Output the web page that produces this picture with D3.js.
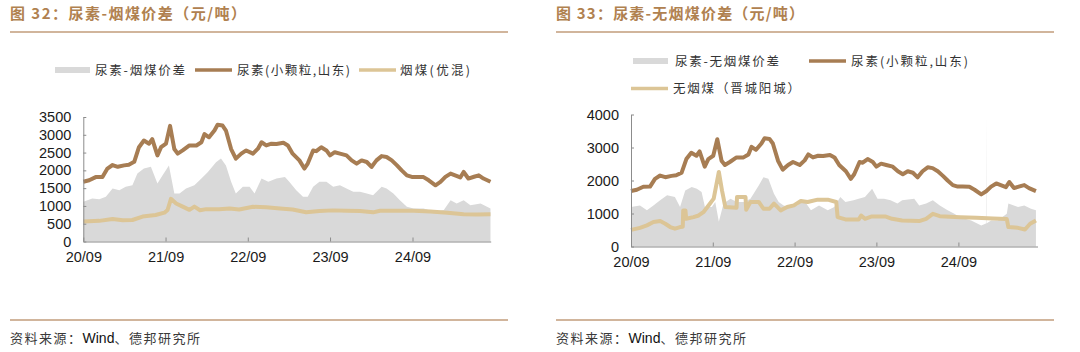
<!DOCTYPE html>
<html>
<head>
<meta charset="utf-8">
<script src="https://cdn.jsdelivr.net/npm/d3@7"></script>
<style>
  body { margin: 0; background: #fff; }
  svg { display: block; }
  .tick text { font-family: "Liberation Sans", Arial, sans-serif; font-size: 14.5px; fill: #1a1a1a; }
  .axis path, .axis line { stroke: #8c8c8c; }
</style>
</head>
<body>
<svg id="chart" width="1080" height="352"></svg>
<script>
// urea (small granule, Shandong), yuan/t — shared by both panels
const ureaDates = ["2020-09-01","2020-09-27","2020-10-26","2020-11-25","2020-12-17","2021-01-09","2021-02-01","2021-03-01","2021-03-22","2021-04-15","2021-05-06","2021-05-28","2021-06-20","2021-07-04","2021-07-27","2021-08-12","2021-09-03","2021-09-21","2021-10-10","2021-10-25","2021-11-16","2021-12-16","2022-01-16","2022-02-07","2022-02-21","2022-03-13","2022-04-06","2022-04-20","2022-05-12","2022-05-27","2022-06-19","2022-07-10","2022-08-03","2022-08-25","2022-09-24","2022-10-16","2022-11-01","2022-11-22","2022-12-15","2023-01-06","2023-02-06","2023-02-26","2023-03-19","2023-04-18","2023-05-10","2023-05-25","2023-06-18","2023-07-02","2023-07-24","2023-08-16","2023-09-01","2023-09-22","2023-10-15","2023-11-13","2023-12-06","2023-12-28","2024-01-19","2024-02-11","2024-03-03","2024-03-25","2024-04-17","2024-05-09","2024-06-01","2024-06-24","2024-07-15","2024-08-07","2024-08-29","2024-09-20","2024-10-20","2024-11-12","2024-12-12","2025-01-03","2025-01-25","2025-02-17","2025-03-09","2025-04-01","2025-04-16","2025-05-07","2025-06-01","2025-06-22","2025-07-13","2025-08-13"];
const urea = [1680,1720,1810,1815,2050,2150,2100,2140,2160,2240,2650,2840,2750,2880,2420,2650,2750,3250,2600,2470,2560,2700,2700,2790,3020,2930,3120,3280,3260,3120,2600,2330,2470,2560,2470,2610,2790,2700,2750,2740,2775,2700,2470,2280,2050,2190,2560,2540,2650,2560,2420,2510,2470,2420,2280,2190,2280,2235,2095,2280,2400,2375,2280,2140,2000,1860,1815,1815,1810,1720,1580,1675,1815,1910,1860,1800,1955,1770,1820,1860,1770,1680];

// bituminous coal (mixed), yuan/t
const bitDates = ["2020-09-01","2020-11-11","2021-01-09","2021-02-23","2021-04-07","2021-05-22","2021-07-19","2021-08-27","2021-09-10","2021-09-25","2021-10-18","2021-11-16","2021-12-16","2022-01-07","2022-02-01","2022-03-01","2022-04-28","2022-06-12","2022-07-25","2022-09-24","2022-11-22","2023-01-22","2023-03-19","2023-05-18","2023-07-16","2023-09-15","2023-11-13","2024-01-12","2024-03-10","2024-04-10","2024-06-24","2024-09-06","2024-11-19","2025-02-03","2025-04-16","2025-06-15","2025-08-13"];
const bitCoal = [560,580,630,600,605,700,745,810,885,1200,1070,980,890,980,880,910,910,930,900,975,960,930,900,820,855,875,865,855,820,865,865,865,840,810,765,760,765];

// urea - bituminous spread
const bitSpreadDates = ["2020-09-01","2020-10-11","2020-11-11","2020-12-10","2021-01-09","2021-02-08","2021-03-08","2021-04-07","2021-04-29","2021-05-28","2021-06-28","2021-07-27","2021-08-19","2021-09-16","2021-10-10","2021-11-02","2021-12-01","2022-01-07","2022-02-07","2022-03-07","2022-04-13","2022-05-05","2022-05-27","2022-06-19","2022-07-10","2022-08-10","2022-09-09","2022-10-01","2022-11-01","2022-12-01","2023-01-06","2023-02-13","2023-03-04","2023-04-04","2023-05-04","2023-05-25","2023-06-18","2023-07-16","2023-08-16","2023-09-15","2023-10-15","2023-11-13","2023-12-13","2024-01-12","2024-02-11","2024-03-10","2024-04-17","2024-05-09","2024-06-08","2024-07-07","2024-08-07","2024-09-06","2024-10-20","2024-12-04","2025-01-18","2025-02-17","2025-03-16","2025-04-16","2025-05-16","2025-06-30","2025-08-13"];
const bitSpread = [1120,1210,1190,1260,1490,1440,1540,1580,1910,2050,2100,1630,1860,2140,1350,1350,1490,1580,1770,1950,2230,2330,2140,1680,1350,1540,1540,1350,1770,1680,1770,1815,1680,1440,1260,1260,1540,1680,1680,1540,1580,1490,1400,1400,1350,1300,1540,1490,1350,1160,980,930,930,840,885,1160,1070,1160,1020,1070,930];

// anthracite (Jincheng Yangcheng), yuan/t
const anthDates = ["2020-09-01","2020-10-11","2020-11-11","2020-12-10","2021-01-09","2021-02-01","2021-02-23","2021-03-16","2021-04-08","2021-04-20","2021-04-22","2021-05-02","2021-05-05","2021-06-07","2021-06-30","2021-07-21","2021-08-13","2021-09-05","2021-09-28","2021-10-12","2021-10-27","2021-12-16","2021-12-18","2022-01-25","2022-01-28","2022-02-16","2022-03-25","2022-04-15","2022-05-12","2022-06-01","2022-07-01","2022-07-30","2022-08-29","2022-09-29","2022-10-29","2022-12-13","2023-01-27","2023-03-06","2023-03-12","2023-04-16","2023-06-14","2023-06-25","2023-07-12","2023-08-12","2023-10-10","2023-11-10","2023-12-25","2024-03-10","2024-04-10","2024-05-10","2024-06-10","2024-09-08","2024-11-20","2025-02-03","2025-04-05","2025-04-12","2025-05-25","2025-06-25","2025-07-18","2025-08-13"];
const anthCoal = [505,565,640,740,770,690,590,540,590,600,1090,1090,840,890,940,1040,1245,1450,2260,1700,1195,1175,1500,1500,1115,1350,1350,1145,1145,1300,1095,1195,1245,1380,1350,1420,1420,1350,890,820,820,940,840,910,910,840,790,770,840,990,920,890,870,850,830,590,565,515,690,790];

// urea - anthracite spread
const anthSpreadDates = ["2020-09-01","2020-10-11","2020-11-11","2020-12-10","2021-01-09","2021-02-09","2021-03-16","2021-04-08","2021-05-01","2021-05-30","2021-06-22","2021-07-13","2021-07-28","2021-08-28","2021-09-12","2021-09-28","2021-10-19","2021-11-19","2021-12-18","2022-01-18","2022-02-16","2022-03-25","2022-04-15","2022-05-07","2022-06-01","2022-06-22","2022-07-14","2022-08-13","2022-09-13","2022-10-13","2022-11-13","2022-12-19","2023-01-27","2023-02-25","2023-03-24","2023-04-16","2023-05-22","2023-06-14","2023-07-12","2023-08-13","2023-09-06","2023-10-05","2023-11-03","2023-12-04","2023-12-25","2024-02-17","2024-03-10","2024-04-10","2024-05-10","2024-06-10","2024-07-15","2024-08-14","2024-09-08","2024-10-28","2024-12-12","2025-01-02","2025-01-03","2025-01-04","2025-01-25","2025-02-24","2025-04-05","2025-04-12","2025-05-25","2025-06-22","2025-07-22","2025-08-13"];
const anthSpread = [1195,1245,1095,1245,1400,1550,1500,1195,1700,1800,1750,1650,1195,1195,1350,750,1300,1450,1350,1350,1450,1850,2100,2050,1600,1350,1245,1195,1245,1400,1095,1245,1095,1195,1500,1350,1400,1450,1500,1750,1450,1450,1400,1300,1400,1450,1245,1300,1400,1245,1095,990,890,790,640,700,4000,700,790,790,990,1300,1195,1245,1145,1095];

const xTicks = ["2020-09-01","2021-09-01","2022-09-01","2023-09-01","2024-09-01"];
const yTicksLeft = [0,500,1000,1500,2000,2500,3000,3500];
const yTicksRight = [0,1000,2000,3000,4000];

const titles = ["图 32：尿素-烟煤价差（元/吨）", "图 33：尿素-无烟煤价差（元/吨）"];
const sourceParts = ["资料来源：", "Wind", "、德邦研究所"];

const parse = d3.timeParse("%Y-%m-%d");
const zip = (ds, vs) => ds.map((d, i) => ({date: parse(d), value: vs[i]}));

const ureaColor = "#a77d53", coalColor = "#dcc596", spreadColor = "#d9d9d9";
const titleColor = "#b0814f", ruleColor = "#c29c7b";
const cjk = '"Noto Sans CJK SC", "Noto Sans", sans-serif';

let svg = d3.select("#chart");

function panel(p) {
    let g = svg.append("g");

    // title + rules
    g.append("text")
        .attr("x", p.left).attr("y", 19)
        .attr("textLength", p.titleLen).attr("lengthAdjust", "spacing")
        .style("font-family", cjk).style("font-size", "15px").style("font-weight", "bold")
        .style("fill", titleColor)
        .text(p.title);
    g.append("line")
        .attr("x1", p.left).attr("x2", p.right).attr("y1", 32).attr("y2", 32)
        .style("stroke", ruleColor).style("stroke-width", 1.5);
    g.append("line")
        .attr("x1", p.left).attr("x2", p.right).attr("y1", 320).attr("y2", 320)
        .style("stroke", ruleColor).style("stroke-width", 1.5);

    let src = g.append("text")
        .attr("x", p.left).attr("y", 343)
        .style("font-family", cjk).style("font-size", "13px").style("fill", "#3a3a3a");
    src.append("tspan").text(sourceParts[0]).style("letter-spacing", "1.5px");
    src.append("tspan").text(sourceParts[1])
        .style("font-family", '"Liberation Sans", Arial, sans-serif').style("font-size", "14px").style("fill", "#111");
    src.append("tspan").text(sourceParts[2]).style("letter-spacing", "1.5px");

    // scales
    let x = d3.scaleTime().domain([parse("2020-09-01"), parse(p.end)]).range([p.x0, p.x1]);
    let y = d3.scaleLinear().domain([0, p.ymax]).range([p.y0, p.y1]);

    let area = d3.area()
        .x(d => x(d.date))
        .y0(y(0))
        .y1(d => y(d.value));
    let line = d3.line()
        .x(d => x(d.date))
        .y(d => y(d.value));

    g.append("path").datum(p.spread)
        .attr("d", area).style("fill", spreadColor);
    g.append("path").datum(zip(ureaDates, urea))
        .attr("d", line).style("fill", "none").style("stroke", ureaColor)
        .style("stroke-width", 4).style("stroke-linejoin", "round");
    g.append("path").datum(p.coal)
        .attr("d", line).style("fill", "none").style("stroke", coalColor)
        .style("stroke-width", 4).style("stroke-linejoin", "round");

    // axes
    g.append("g")
        .attr("class", "axis")
        .attr("transform", "translate(0," + p.y0 + ")")
        .call(d3.axisBottom(x)
            .tickValues(xTicks.map(parse))
            .tickFormat(d3.timeFormat("%y/%m"))
            .tickSizeInner(-4).tickSizeOuter(0).tickPadding(10));
    g.append("g")
        .attr("class", "axis")
        .attr("transform", "translate(" + p.x0 + ",0)")
        .call(d3.axisLeft(y)
            .tickValues(p.yTicks)
            .tickFormat(d3.format("d"))
            .tickSizeInner(-3).tickSizeOuter(0).tickPadding(12));

    // legend
    p.legend.forEach(it => {
        if (it.kind === "area") {
            g.append("rect")
                .attr("x", it.x).attr("y", it.y - 3).attr("width", 35).attr("height", 6)
                .style("fill", spreadColor);
        } else {
            g.append("line")
                .attr("x1", it.x).attr("x2", it.x + 37).attr("y1", it.y).attr("y2", it.y)
                .style("stroke", it.kind === "urea" ? ureaColor : coalColor).style("stroke-width", 3.5);
        }
        g.append("text")
            .attr("x", it.tx).attr("y", it.y + 4.5)
            .attr("textLength", it.len).attr("lengthAdjust", "spacing")
            .style("font-family", cjk).style("font-size", "12.5px").style("fill", "#333")
            .text(it.label);
    });
}

panel({
    left: 10, right: 508, title: titles[0], titleLen: 236,
    x0: 83.3, x1: 490.7, y0: 241.5, y1: 117, ymax: 3500, end: "2025-08-14",
    yTicks: yTicksLeft,
    spread: zip(bitSpreadDates, bitSpread),
    coal: zip(bitDates, bitCoal),
    legend: [
        {kind: "area", x: 55, y: 70, tx: 95, len: 90, label: "尿素-烟煤价差"},
        {kind: "urea", x: 195, y: 70, tx: 237, len: 113, label: "尿素(小颗粒,山东)"},
        {kind: "coal", x: 359, y: 70, tx: 400, len: 70, label: "烟煤(优混)"}
    ]
});

panel({
    left: 556, right: 1054, title: titles[1], titleLen: 248,
    x0: 631, x1: 1037.5, y0: 246.5, y1: 114.5, ymax: 4000, end: "2025-08-20",
    yTicks: yTicksRight,
    spread: zip(anthSpreadDates, anthSpread),
    coal: zip(anthDates, anthCoal),
    legend: [
        {kind: "area", x: 633, y: 61, tx: 675, len: 104, label: "尿素-无烟煤价差"},
        {kind: "urea", x: 809, y: 61, tx: 851, len: 117, label: "尿素(小颗粒,山东)"},
        {kind: "coal", x: 631, y: 88.5, tx: 673, len: 127, label: "无烟煤（晋城阳城）"}
    ]
});
</script>
</body>
</html>
